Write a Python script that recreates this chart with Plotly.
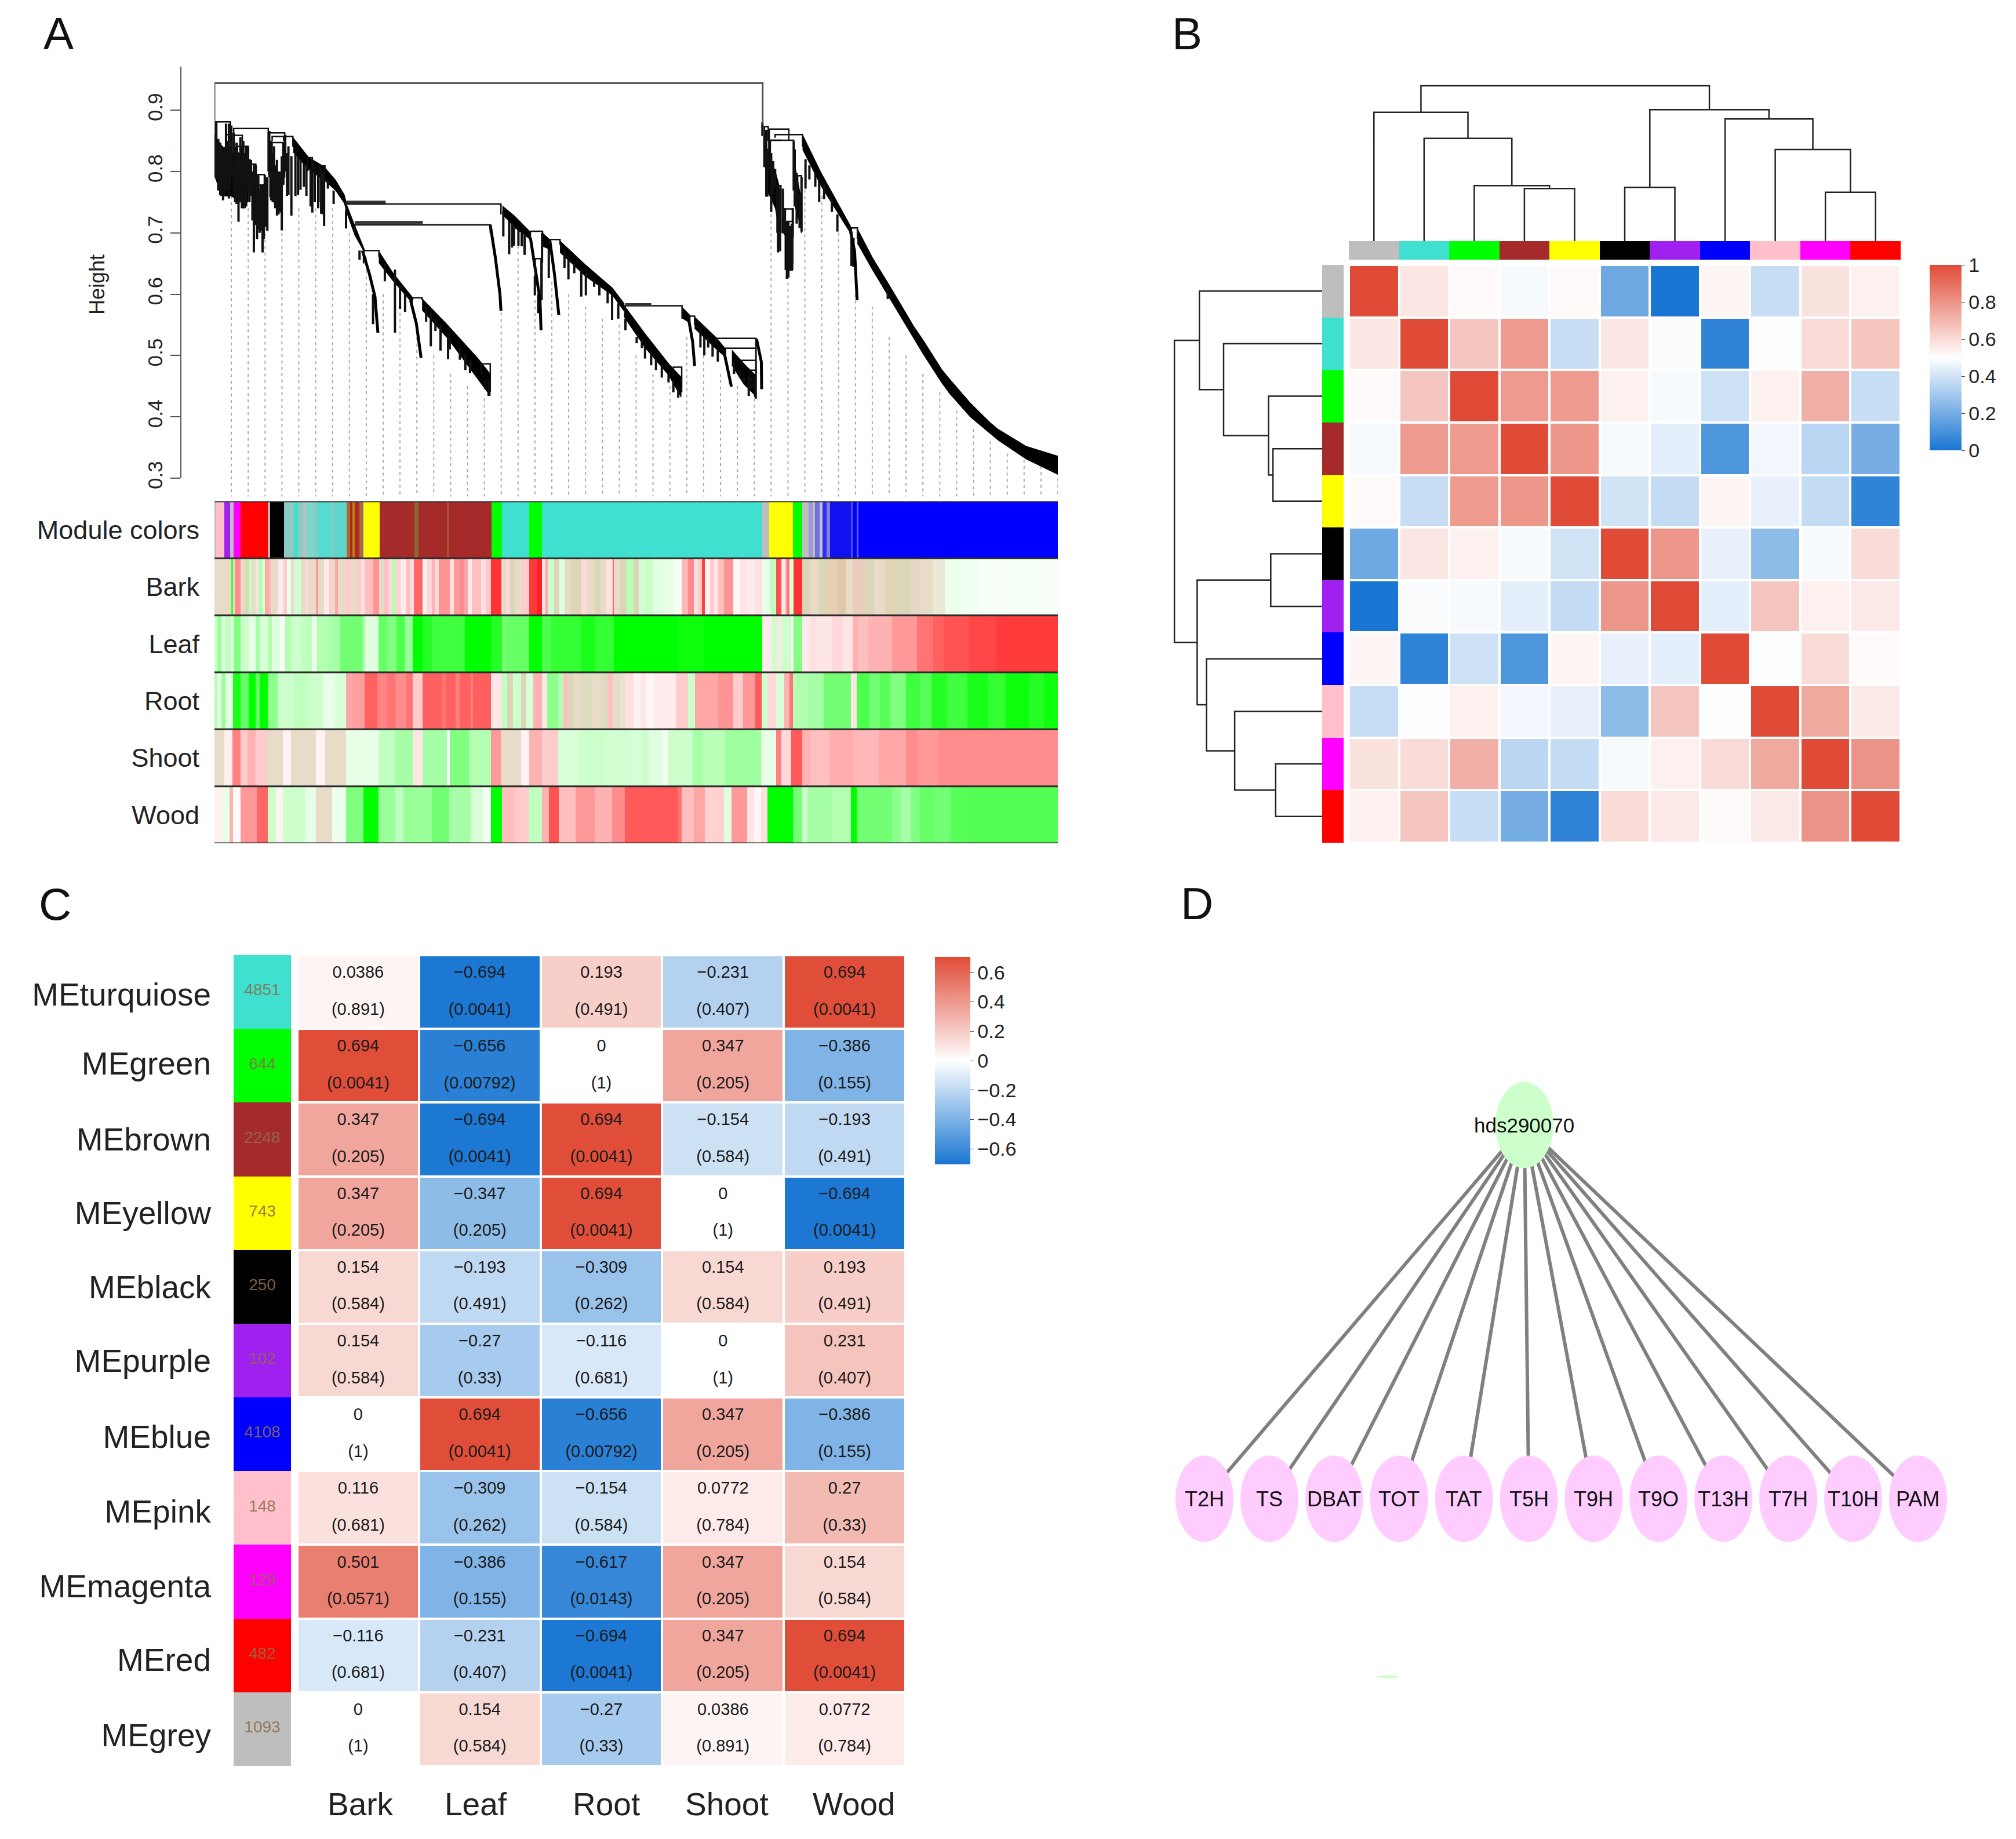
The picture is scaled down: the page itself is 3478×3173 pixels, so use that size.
import plotly.graph_objects as go

W, H = 3478, 3173
FONT = "Liberation Sans"
TAN1 = "#e8dcc8"
TAN2 = "#dcd6b8"

# ---------- Panel A: dendrogram (x = % of ordered genes, y = height) ----------
dendro_ticks = [0.3, 0.4, 0.5, 0.6, 0.7, 0.8, 0.9]
dendro_merges = [
    (0.11, 1.9, .881, .80, .85), (1.37, 2.0, .86, .80, .80), (2.28, 6.38, .870, .80, .80),
    (6.38, 8.32, .863, .80, .79), (8.32, 9.3, .857, .80, .84), (6.84, 8.2, .847, .78, .78),
    (6.84, 8.2, .857, .85, .85), (2.28, 3.3, .859, .85, .82), (2.73, 3.99, .841, .80, .77),
    (4.37, 4.9, .812, .76, .76), (5.01, 5.92, .795, .77, .74), (5.2, 5.81, .778, .72, .72),
    (11.05, 11.6, .8225, .80, .80), (12.4, 13.1, .809, .75, .80),
    (15.6, 33.97, .747, .73, .73), (16.64, 32.7, .713, .70, .70), (17.67, 19.5, .671, .65, .66),
    (23.5, 24.6, .594, .59, .59), (31.6, 32.7, .4865, .47, .44),
    (37.46, 38.9, .7025, .69, .69), (38.03, 38.84, .658, .62, .59), (39.75, 40.97, .689, .68, .68),
    (48.69, 55.44, .581, .575, .56), (54.41, 55.4, .481, .47, .44), (56.36, 56.93, .564, .55, .55),
    (59.45, 64.2, .528, .52, .43), (60.6, 64.2, .512, .50, .43), (62.55, 64.2, .492, .48, .43),
    (63.46, 64.2, .476, .46, .43),
    (65.2, 65.66, .873, .85, .85), (65.78, 68.1, .869, .85, .85), (66.47, 69.73, .86, .855, .84),
    (65.9, 67.17, .851, .80, .85), (65.9, 68.68, .851, .80, .80), (66.7, 67.17, .777, .70, .70),
    (69.15, 69.6, .793, .74, .70), (67.64, 68.57, .739, .70, .70), (67.87, 68.57, .7185, .65, .65),
    (75.53, 76.23, .708, .69, .69),
]
dendro_root = (0.0, 65.0, .944, .88, .877)
dendro_thick = [(15.6, 20.3, .750), (16.64, 24.7, .717), (48.69, 51.8, .583)]
dendro_twigs = [
    (.22, .881, .787), (.45, .853, .769), (.68, .847, .762), (1.02, .831, .753), (1.37, .878, .769),
    (1.71, .878, .756), (2.0, .875, .791), (2.28, .863, .762), (2.62, .847, .747), (2.85, .831, .718),
    (3.07, .856, .75), (3.42, .85, .74), (3.76, .841, .743), (3.99, .841, .769), (4.33, .819, .762),
    (4.67, .813, .668), (4.9, .81, .718), (5.2, .794, .706), (5.47, .778, .703), (5.7, .778, .668),
    (5.97, .794, .725), (6.27, .791, .703), (6.5, .866, .791), (6.72, .85, .753), (7.06, .841, .769),
    (7.41, .819, .728), (7.75, .8, .737), (7.98, .825, .704), (8.16, .847, .778), (8.39, .86, .8),
    (8.77, .841, .762), (9.12, .825, .728),
    (.1, .86, .79), (.8, .84, .76), (1.2, .84, .76), (1.55, .85, .77), (1.85, .84, .77), (2.45, .84, .75),
    (3.25, .84, .74), (3.6, .83, .74), (4.15, .82, .75), (4.5, .80, .72), (5.05, .79, .69), (5.35, .77, .70),
    (5.85, .78, .69), (6.1, .79, .71), (6.9, .83, .75), (7.2, .81, .74), (7.6, .8, .73), (8.6, .83, .76),
    (9.6, .83, .76), (10.2, .82, .77), (10.9, .81, .76), (11.9, .81, .75), (12.3, .80, .74), (12.9, .80, .73),
    (9.91, .825, .762), (10.6, .813, .775), (11.4, .806, .743), (11.6, .819, .733), (12.65, .806, .731),
    (13.0, .80, .711), (13.45, .787, .772), (14.13, .769, .747), (15.6, .737, .707), (17.2, .671, .656),
    (18.8, .60, .551), (20.2, .65, .621), (21.4, .64, .537), (22.0, .615, .576), (22.6, .60, .571),
    (25.1, .58, .555), (25.65, .57, .515), (26.2, .56, .54), (26.8, .55, .508), (27.7, .537, .494),
    (27.9, .53, .51), (29.1, .512, .493), (29.75, .502, .476), (30.3, .493, .471), (30.4, .49, .483),
    (32.1, .46, .445), (32.5, .46, .434),
    (34.25, .735, .694), (34.94, .72, .665), (35.28, .715, .676), (35.51, .71, .679), (36.04, .705, .679),
    (36.43, .70, .678), (36.77, .70, .664), (37.99, .63, .598), (38.38, .60, .569), (38.84, .70, .651),
    (38.77, .658, .591), (39.64, .675, .626), (41.5, .672, .643), (41.97, .662, .624), (42.66, .65, .634),
    (43.49, .64, .596), (44.04, .635, .598), (45.02, .625, .612), (45.64, .615, .598), (46.62, .605, .585),
    (47.15, .60, .558), (47.88, .585, .56),
    (48.73, .56, .541), (50.06, .53, .52), (50.68, .525, .512), (51.05, .515, .495), (51.78, .505, .484),
    (52.35, .495, .476), (53.04, .485, .464), (53.84, .47, .456), (54.41, .46, .44), (54.99, .45, .431),
    (57.62, .545, .513), (58.08, .535, .50), (58.54, .53, .513), (59.06, .52, .498), (59.68, .51, .49),
    (61.6, .49, .47), (62.32, .475, .464), (62.77, .465, .456), (63.35, .465, .434), (63.69, .465, .446),
    (64.1, .465, .432),
    (64.97, .881, .858), (65.2, .858, .807), (65.55, .836, .759), (65.43, .868, .759), (65.78, .852, .804),
    (66.01, .83, .734), (66.24, .817, .763), (66.48, .804, .772), (66.82, .775, .668), (67.06, .772, .67),
    (67.4, .772, .699), (67.64, .74, .696), (67.87, .718, .625), (68.05, .718, .627), (68.22, .711, .638),
    (68.45, .715, .638), (68.57, .74, .692), (68.68, .849, .769), (68.8, .836, .743), (69.03, .798, .715),
    (69.38, .763, .708), (69.61, .791, .702), (70.08, .82, .772), (70.54, .81, .787), (71.24, .80, .775),
    (71.7, .79, .75), (72.28, .78, .755), (73.21, .755, .734), (73.86, .73, .702), (75.53, .702, .646),
    (75.77, .692, .644), (79.83, .61, .592),
]
dendro_bands = [
    ([.2, 1.0, 2.0, 3.0, 4.0], [.855, .84, .83, .83, .81], [.785, .76, .76, .75, .75]),
    ([4.6, 5.0, 5.5, 6.3], [.80, .78, .76, .78], [.72, .71, .71, .72]),
    ([6.5, 7.5, 8.0], [.82, .79, .78], [.76, .74, .73]),
    ([65.5, 66.5, 67.0], [.84, .80, .775], [.77, .74, .70]),
    ([67.6, 68.6], [.72, .70], [.64, .64]),
    ([68.7, 69.5], [.82, .76], [.75, .71]),
    ([9.35, 11.17, 13.0, 14.36, 15.4, 15.73, 16.64, 17.78],
     [.855, .823, .808, .786, .762, .744, .712, .673],
     [.831, .803, .786, .769, .748, .731, .696, .668]),
    ([19.49, 21.2, 23.48], [.670, .634, .595], [.651, .621, .585]),
    ([24.62, 27.7, 31.2, 32.7], [.593, .549, .496, .47], [.574, .527, .462, .434]),
    ([34.14, 35.63, 37.35], [.744, .727, .703], [.73, .708, .69]),
    ([38.9, 39.75], [.70, .689], [.678, .673]),
    ([40.97, 43.99, 47.2, 48.57], [.687, .648, .610, .585], [.668, .629, .598, .572]),
    ([48.57, 51.09, 53.84, 55.33], [.582, .535, .487, .465], [.563, .512, .468, .432]),
    ([55.44, 56.36], [.579, .566], [.561, .553]),
    ([56.93, 59.45, 60.6], [.563, .53, .511], [.544, .511, .497]),
    ([61.35, 62.77, 64.15], [.509, .487, .468], [.484, .453, .434]),
    ([69.73, 71.93, 75.42], [.860, .798, .711], [.836, .776, .699]),
    ([76.23, 78.0, 80.18, 82.9, 84.13, 86.25, 87.15, 89.6, 92.03, 92.9, 96.25, 100.0],
     [.707, .66, .611, .548, .523, .477, .462, .423, .39, .38, .352, .336],
     [.683, .64, .59, .528, .50, .455, .438, .40, .372, .362, .331, .306]),
]
dendro_tails = [
    [(17.55, .671), (18.35, .634), (19.03, .596), (19.38, .537)],
    [(23.25, .59), (23.94, .552), (24.5, .496)],
    [(32.7, .713), (33.3, .66), (33.85, .60), (33.97, .573)],
    [(37.46, .692), (37.92, .648), (38.6, .591), (38.72, .541)],
    [(39.75, .689), (40.32, .632), (40.83, .566)],
    [(56.25, .557), (56.7, .522), (56.93, .483)],
    [(60.37, .509), (60.94, .475), (61.29, .449)],
    [(64.27, .527), (64.84, .49), (64.88, .445)],
    [(75.42, .702), (75.9, .67), (76.2, .59)],
]
guide_x = [2, 4, 6, 8, 10, 12, 14, 16, 18, 20, 22, 24, 26, 28, 30, 32, 34, 36, 38, 40, 42, 44, 46, 48, 50,
           52, 54, 56, 58, 60, 62, 64, 66, 68, 70, 72, 74, 76, 78, 80, 82, 84, 86, 88, 90, 92, 94, 96, 98, 100]
guide_top = [.76, .74, .72, .71, .74, .74, .74, .70, .66, .60, .58, .54, .50, .47, .45, .43, .57, .70, .59, .62,
             .60, .58, .56, .55, .50, .47, .45, .53, .50, .47, .45, .43, .73, .65, .77, .76, .70, .60, .58, .53,
             .50, .47, .44, .41, .38, .36, .34, .33, .32, .31]

# ---------- Panel A: stripes (x = gene position, (end, value or colour)) ----------
strip_start = 10
module_stripes = [
    (17, "#bebebe"), (45, "#ffc0cb"), (68, "#a020f0"), (80, "#bebebe"), (105, "#ff00ff"), (205, "#ff0000"),
    (213, "#bebebe"), (265, "#000000"), (300, "#8fc9c4"), (315, "#40e0d0"), (335, "#8fc9c4"), (345, "#bebebe"),
    (375, "#7ed6cd"), (385, "#8fc9c4"), (435, "#55dbcf"), (445, "#8fc9c4"), (492, "#5fd6cb"), (505, "#b06a2a"),
    (515, "#a52a2a"), (522, "#c87a10"), (540, "#a52a2a"), (553, "#b06a2a"), (557, "#bebebe"), (613, "#ffff00"),
    (740, "#a52a2a"), (755, "#8a6a30"), (860, "#a52a2a"), (867, "#a85030"), (1022, "#a52a2a"), (1060, "#00ff00"),
    (1160, "#40e0d0"), (1207, "#00ff00"), (2011, "#40e0d0"), (2036, "#bebebe"), (2124, "#ffff00"), (2158, "#00ff00"),
    (2181, "#bebebe"), (2196, "#9a9ad8"), (2204, "#bebebe"), (2221, "#7070e0"), (2231, "#c0c0d8"), (2246, "#3030f0"),
    (2258, "#8080e0"), (2336, "#1010f0"), (2342, "#5050e0"), (2356, "#0000ff"), (2362, "#6060e8"), (3091, "#0000ff"),
]
bark_stripes = [
    (72, TAN1), (78, -.8), (85, TAN1), (105, .45), (120, TAN1), (135, TAN2), (145, -.25), (160, TAN1), (170, .12),
    (185, -.3), (195, -.15), (205, .35), (215, .3), (240, TAN1), (262, .08), (275, .2), (290, -.1), (300, TAN1),
    (325, -.18), (340, TAN1), (350, .15), (380, TAN1), (388, .4), (410, TAN1), (430, .08), (440, .2), (450, TAN1),
    (460, .35), (490, TAN1), (510, .2), (530, TAN1), (545, .2), (560, .12), (590, .25), (612, .42), (630, TAN1),
    (645, .25), (660, .15), (672, -.3), (690, .18), (710, .08), (725, .25), (738, .12), (770, .6), (785, .05),
    (805, .15), (815, .3), (830, .15), (870, .42), (885, .12), (905, .4), (920, .45), (935, .35), (950, .08),
    (985, .25), (1000, .12), (1020, .22), (1058, .8), (1075, TAN1), (1090, .15), (1110, TAN2), (1130, TAN1),
    (1160, .2), (1190, .78), (1207, .88), (1217, .1), (1230, .3), (1250, -.2), (1270, TAN2), (1290, -.12),
    (1310, TAN1), (1350, TAN2), (1370, .15), (1400, TAN1), (1420, TAN2), (1440, TAN1), (1465, .12), (1470, .6),
    (1490, TAN1), (1515, TAN2), (1540, -.28), (1560, TAN2), (1586, -.18), (1610, -.22), (1646, -.12), (1690, -.1),
    (1716, -.05), (1740, .28), (1761, .45), (1775, .12), (1791, .2), (1801, .75), (1820, .05), (1836, .2), (1850, .1),
    (1871, .25), (1906, .42), (1930, .03), (1956, .1), (1985, .08), (2011, .12), (2040, -.1), (2061, -.25), (2081, .7),
    (2095, .1), (2101, .3), (2111, .55), (2126, -.15), (2158, .8), (2186, TAN2), (2216, TAN1), (2250, TAN2),
    (2286, "#e6cfb4"), (2316, "#ddc8a8"), (2341, TAN1), (2386, "#e8cdbc"), (2420, TAN2), (2460, TAN1),
    (2496, "#e4d4b4"), (2556, TAN2), (2590, "#e6d8c4"), (2636, TAN1), (2680, "#ebe8d8"), (2736, -.08), (2800, -.06),
    (2916, -.03), (3000, -.04), (3091, -.03),
]
leaf_stripes = [
    (20, -.2), (35, -.4), (50, -.15), (70, -.25), (80, -.1), (105, -.5), (135, -.2), (160, -.1), (175, -.35),
    (205, -.15), (220, -.3), (250, -.12), (268, -.05), (290, -.3), (325, -.2), (365, -.25), (385, -.1), (430, -.3),
    (470, -.35), (550, -.55), (558, -.4), (610, -.12), (640, -.6), (675, -.5), (705, -.7), (735, -.4), (770, -1),
    (805, -.85), (925, -.75), (1020, -1), (1060, -.85), (1080, -.55), (1160, -.6), (1207, -1), (1240, -.7),
    (1350, -.8), (1400, -.9), (1470, -.8), (1700, -1), (1800, -.95), (2011, -1), (2046, .08), (2066, -.2), (2081, .1),
    (2116, -.2), (2126, .05), (2158, -.5), (2186, .08), (2206, .12), (2266, .1), (2306, .15), (2341, .1), (2361, .3),
    (2396, .25), (2436, .3), (2486, .3), (2556, .4), (2576, .4), (2636, .55), (2676, .62), (2766, .68), (2866, .72),
    (3091, .77),
]
root_stripes = [
    (20, -.3), (35, -.1), (50, -.4), (78, -.12), (105, -.9), (135, -.6), (160, -1), (175, -.6), (205, -1), (240, -.45),
    (300, -.2), (350, -.25), (405, -.2), (450, -.1), (490, -.15), (515, .35), (558, .38), (605, .62), (640, .48),
    (670, .55), (710, .45), (735, .55), (770, .2), (840, .62), (855, .55), (890, .62), (905, .5), (945, .62), (955, .5),
    (1020, .63), (1060, .1), (1080, -.25), (1100, TAN2), (1130, -.2), (1150, TAN2), (1175, -.15), (1207, .3),
    (1225, .1), (1265, -.45), (1285, -.3), (1300, .25), (1320, TAN2), (1345, TAN1), (1390, "#dfdcc0"), (1420, TAN1),
    (1445, "#dcdcc0"), (1465, .25), (1490, TAN1), (1510, "#e6e6cc"), (1540, .12), (1568, .05), (1586, .1), (1616, .04),
    (1696, .08), (1741, .2), (1766, -.2), (1801, .35), (1851, .35), (1906, .42), (1941, .2), (1986, .4), (2009, .65),
    (2031, -.2), (2061, .15), (2091, -.15), (2111, .3), (2124, .55), (2176, -.3), (2236, -.35), (2336, -.55), (2356, .1),
    (2400, -.7), (2440, -.55), (2480, -.65), (2536, -.5), (2586, -.75), (2630, -.65), (2686, -.85), (2760, -.75),
    (2836, -.9), (2900, -.8), (2986, -.95), (3040, -.85), (3091, -.95),
]
shoot_stripes = [
    (45, TAN1), (75, .06), (105, .5), (130, .2), (160, .3), (200, .2), (260, TAN1), (290, .05), (380, TAN1), (415, .05),
    (490, TAN1), (612, -.1), (670, -.25), (735, -.35), (770, .1), (860, -.35), (870, 0), (940, -.5), (1020, -.3),
    (1055, .4), (1130, TAN1), (1160, .05), (1207, .3), (1265, .2), (1340, -.15), (1440, -.2), (1530, -.18), (1568, -.15),
    (1596, -.2), (1646, -.12), (1666, -.05), (1756, -.2), (1796, -.35), (1876, -.28), (2006, -.38), (2061, -.1),
    (2081, .5), (2116, .15), (2158, .65), (2186, .3), (2256, .25), (2346, .32), (2436, .28), (2536, .35), (2576, .45),
    (2656, .4), (2736, .45), (3091, .45),
]
wood_stripes = [
    (40, .06), (65, -.1), (78, .3), (105, .02), (165, .4), (205, .6), (235, -.2), (260, .05), (340, -.2), (380, -.1),
    (440, TAN1), (490, -.08), (555, -.5), (610, -1), (670, -.4), (700, -.25), (805, -.4), (868, -.55), (945, -.35),
    (990, -.15), (1020, -.05), (1060, -1), (1110, .25), (1160, .2), (1207, -.25), (1232, .3), (1268, .68), (1330, .25),
    (1400, .4), (1462, .3), (1510, .45), (1701, .65), (1716, .55), (1761, .25), (1801, .35), (1871, .18), (1898, -.12),
    (1956, .4), (1981, .1), (2006, .03), (2031, .12), (2124, -1), (2156, -.55), (2176, -.2), (2266, -.35), (2334, -.3),
    (2356, -1), (2486, -.55), (2520, -.45), (2556, -.35), (2586, -.5), (2640, -.6), (2700, -.55), (2760, -.65), (3091, -.68),
]
strip_labels = ["Module colors", "Bark", "Leaf", "Root", "Shoot", "Wood"]

# ---------- Panel B ----------
b_colors = ["#bebebe", "#40e0d0", "#00ff00", "#a52a2a", "#ffff00", "#000000",
            "#a020f0", "#0000ff", "#ffc0cb", "#ff00ff", "#ff0000"]
b_matrix = [
    [1, .57, .515, .48, .515, .185, 0, .525, .375, .58, .54],
    [.57, 1, .66, .78, .375, .57, .49, .05, .495, .60, .66],
    [.515, .66, 1, .78, .78, .54, .48, .39, .54, .72, .38],
    [.48, .78, .78, 1, .79, .48, .44, .115, .47, .35, .20],
    [.515, .375, .78, .79, 1, .40, .37, .525, .45, .37, .05],
    [.185, .57, .54, .48, .40, 1, .79, .45, .255, .48, .60],
    [0, .49, .48, .44, .37, .79, 1, .44, .66, .54, .56],
    [.525, .05, .39, .115, .525, .45, .44, 1, .495, .60, .515],
    [.375, .495, .54, .47, .45, .255, .66, .495, 1, .74, .56],
    [.58, .60, .72, .35, .37, .48, .54, .60, .74, 1, .80],
    [.54, .66, .38, .20, .05, .60, .56, .515, .56, .80, 1],
]
tree_merges = [(3, 4), (2, 11), (1, 12), (0, 13), (5, 6), (9, 10), (8, 16), (7, 17), (15, 18), (14, 19)]
col_heights = [.339, .357, .661, .829, .346, .314, .589, .786, .846, 1.0]
row_heights = [.333, .363, .667, .831, .348, .315, .592, .783, .846, 1.0]
b_ticks = [0, .2, .4, .6, .8, 1]

# ---------- Panel C ----------
c_modules = ["MEturquiose", "MEgreen", "MEbrown", "MEyellow", "MEblack", "MEpurple",
             "MEblue", "MEpink", "MEmagenta", "MEred", "MEgrey"]
c_label_shift = [.03, -.03, 0, 0, 0, 0, .03, .05, .06, .06, .08]
c_colors = ["#40e0d0", "#00ff00", "#a52a2a", "#ffff00", "#000000", "#a020f0",
            "#0000ff", "#ffc0cb", "#ff00ff", "#ff0000", "#bebebe"]
c_counts = [4851, 644, 2248, 743, 250, 102, 4108, 148, 129, 482, 1093]
c_traits = ["Bark", "Leaf", "Root", "Shoot", "Wood"]
c_label_offset = [.02, -.03, .04, .03, .08]
c_cor = [
    [.0386, -.694, .193, -.231, .694],
    [.694, -.656, 0, .347, -.386],
    [.347, -.694, .694, -.154, -.193],
    [.347, -.347, .694, 0, -.694],
    [.154, -.193, -.309, .154, .193],
    [.154, -.27, -.116, 0, .231],
    [0, .694, -.656, .347, -.386],
    [.116, -.309, -.154, .0772, .27],
    [.501, -.386, -.617, .347, .154],
    [-.116, -.231, -.694, .347, .694],
    [0, .154, -.27, .0386, .0772],
]
c_p = [
    [.891, .0041, .491, .407, .0041],
    [.0041, .00792, 1, .205, .155],
    [.205, .0041, .0041, .584, .491],
    [.205, .205, .0041, 1, .0041],
    [.584, .491, .262, .584, .491],
    [.584, .33, .681, 1, .407],
    [1, .0041, .00792, .205, .155],
    [.681, .262, .584, .784, .33],
    [.0571, .155, .0143, .205, .584],
    [.681, .407, .0041, .205, .0041],
    [1, .584, .33, .891, .784],
]
c_ticks = [-.6, -.4, -.2, 0, .2, .4, .6]

# ---------- Panel D ----------
hub_label = "hds290070"
hub_pos = 4.93
target_labels = ["T2H", "TS", "DBAT", "TOT", "TAT", "T5H", "T9H", "T9O", "T13H", "T7H", "T10H", "PAM"]

# ---------- Helpers ----------
def xd(a, b):
    return [a / W, b / W]

def yd(top, bot):
    return [1 - bot / H, 1 - top / H]

BWR = [[0, "#1976d2"], [.5, "#ffffff"], [1, "#e04b37"]]

def stripe_colour(v):
    if isinstance(v, str):
        return v
    c = round(255 * (1 - abs(v)))
    return f"#ff{c:02x}{c:02x}" if v >= 0 else f"#{c:02x}ff{c:02x}"

def discrete(colors):
    n = len(colors)
    scale = []
    for i, c in enumerate(colors):
        scale += [[i / n, c], [(i + 1) / n, c]]
    return scale

fig = go.Figure()
layout_axes = {}

def add_axes(n, xdom, ydom, xrange, yrange, xkw=None, ykw=None):
    base = dict(visible=False, fixedrange=True, showgrid=False, zeroline=False)
    layout_axes[f"xaxis{n}"] = {**base, "domain": xdom, "range": xrange, "anchor": f"y{n}", **(xkw or {})}
    layout_axes[f"yaxis{n}"] = {**base, "domain": ydom, "range": yrange, "anchor": f"x{n}", **(ykw or {})}
    return f"x{n}", f"y{n}"

# ---- Panel A axes
top_h = .9 + 75 / 1058
xg, yg = add_axes(2, xd(370, 1825), yd(115, 860), [0, 100], [.9 - 670 / 1058, top_h])
xa, ya = add_axes(12, xd(370, 1825), yd(115, 825), [0, 100], [.3, top_h], ykw=dict(
    visible=True, anchor="free", position=312 / W, tickvals=dendro_ticks,
    ticktext=[f"{t:.1f}" for t in dendro_ticks], tickangle=-90, ticks="outside", ticklen=17, tickwidth=2,
    tickcolor="#555555", showline=True, linecolor="#555555", linewidth=2,
    tickfont=dict(family=FONT, size=35, color="#222222")))
xs, ys = add_axes(3, xd(370, 1825), yd(865, 1455), [10, 3091], [6, 0], ykw=dict(
    visible=True, tickvals=[i + .5 for i in range(6)], ticktext=strip_labels, ticks="", showline=False,
    ticklabelstandoff=25, tickfont=dict(family=FONT, size=45, color="#222222")))

gx, gy = [], []
for x, t in zip(guide_x, guide_top):
    gx += [x, x, None]
    gy += [t, .27, None]
fig.add_trace(go.Scatter(x=gx, y=gy, xaxis=xg, yaxis=yg, mode="lines", hoverinfo="skip",
                         line=dict(color="#a8a8a8", width=2, dash="5px,6px")))

for (x_vals, up, lo) in dendro_bands:
    fig.add_trace(go.Scatter(x=list(x_vals) + list(x_vals)[::-1], y=list(up) + list(lo)[::-1],
                             xaxis=xa, yaxis=ya, mode="lines", fill="toself", fillcolor="#000000",
                             line=dict(color="#000000", width=1), hoverinfo="skip"))
tx, ty = [], []
for x, t, b in dendro_twigs:
    tx += [x, x, None]
    ty += [t, b, None]
fig.add_trace(go.Scatter(x=tx, y=ty, xaxis=xa, yaxis=ya, mode="lines", hoverinfo="skip",
                         line=dict(color="#111111", width=4)))
for tail in dendro_tails:
    fig.add_trace(go.Scatter(x=[p[0] for p in tail], y=[p[1] for p in tail], xaxis=xa, yaxis=ya, mode="lines",
                             line=dict(color="#000000", width=5), hoverinfo="skip"))
mx, my = [], []
for x0, x1, h, bl, br in dendro_merges:
    mx += [x0, x0, x1, x1, None]
    my += [bl, h, h, br, None]
fig.add_trace(go.Scatter(x=mx, y=my, xaxis=xa, yaxis=ya, mode="lines", hoverinfo="skip",
                         line=dict(color="#111111", width=2.5)))
x0, x1, h, bl, br = dendro_root
fig.add_trace(go.Scatter(x=[x0, x0, x1, x1], y=[bl, h, h, br], xaxis=xa, yaxis=ya, mode="lines", hoverinfo="skip",
                         line=dict(color="#555555", width=3)))
kx, ky = [], []
for x0, x1, h in dendro_thick:
    kx += [x0, x1, None]
    ky += [h, h, None]
fig.add_trace(go.Scatter(x=kx, y=ky, xaxis=xa, yaxis=ya, mode="lines", hoverinfo="skip",
                         line=dict(color="#333333", width=5)))

# stripes
for row, stripes in enumerate([module_stripes, bark_stripes, leaf_stripes, root_stripes,
                               shoot_stripes, wood_stripes]):
    colours = [stripe_colour(v) for _, v in stripes]
    palette = list(dict.fromkeys(colours))
    fig.add_trace(go.Heatmap(x=[strip_start] + [e for e, _ in stripes], y=[row, row + 1],
                             z=[[palette.index(c) for c in colours]], colorscale=discrete(palette),
                             zmin=-.5, zmax=len(palette) - .5, showscale=False, xaxis=xs, yaxis=ys,
                             hoverinfo="skip"))
sx, sy = [], []
for r in range(7):
    sx += [strip_start, 3091, None]
    sy += [r, r, None]
fig.add_trace(go.Scatter(x=sx, y=sy, xaxis=xs, yaxis=ys, mode="lines", cliponaxis=False, hoverinfo="skip",
                         line=dict(color="#2a2a2a", width=3)))

# ---- Panel B axes
xbh, ybh = add_axes(4, xd(2327, 3279), yd(457, 1454), [-.5, 10.5], [10.5, -.5])
xbc, ybc = add_axes(5, xd(2327, 3279), yd(416, 448), [-.5, 10.5], [-.5, .5])
xbr, ybr = add_axes(6, xd(2281, 2318), yd(457, 1454), [-.5, .5], [10.5, -.5])
xdc, ydc = add_axes(7, xd(2327, 3279), yd(142.6, 416), [-.5, 10.5], [0, 1.02])
xdr, ydr = add_axes(8, xd(2021, 2281), yd(457, 1454), [1.02, 0], [10.5, -.5])

fig.add_trace(go.Heatmap(z=b_matrix, colorscale=BWR, zmin=0, zmax=1, xgap=4, ygap=4, xaxis=xbh, yaxis=ybh,
                         hoverinfo="skip",
                         colorbar=dict(x=3329 / W, xanchor="left", y=1 - 457 / H, yanchor="top", xpad=0, ypad=0,
                                       lenmode="pixels", len=320, thicknessmode="pixels", thickness=55,
                                       outlinewidth=0, ticks="outside", ticklen=6, tickcolor="#444444",
                                       tickvals=b_ticks, ticktext=[f"{t:g}" for t in b_ticks],
                                       tickfont=dict(family=FONT, size=34, color="#222222"))))
n_b = len(b_colors)
fig.add_trace(go.Heatmap(z=[list(range(n_b))], colorscale=discrete(b_colors), zmin=-.5, zmax=n_b - .5,
                         showscale=False, xaxis=xbc, yaxis=ybc, hoverinfo="skip"))
fig.add_trace(go.Heatmap(z=[[i] for i in range(n_b)], colorscale=discrete(b_colors), zmin=-.5, zmax=n_b - .5,
                         showscale=False, xaxis=xbr, yaxis=ybr, hoverinfo="skip"))

def tree_paths(heights):
    pos = {i: float(i) for i in range(11)}
    hgt = {i: 0.0 for i in range(11)}
    p, q = [], []
    for k, ((a, b), h) in enumerate(zip(tree_merges, heights)):
        p += [pos[a], pos[a], pos[b], pos[b], None]
        q += [hgt[a], h, h, hgt[b], None]
        pos[11 + k] = (pos[a] + pos[b]) / 2
        hgt[11 + k] = h
    return p, q

p, q = tree_paths(col_heights)
fig.add_trace(go.Scatter(x=p, y=q, xaxis=xdc, yaxis=ydc, mode="lines", cliponaxis=False, hoverinfo="skip",
                         line=dict(color="#222222", width=2.5)))
p, q = tree_paths(row_heights)
fig.add_trace(go.Scatter(x=q, y=p, xaxis=xdr, yaxis=ydr, mode="lines", cliponaxis=False, hoverinfo="skip",
                         line=dict(color="#222222", width=2.5)))

# ---- Panel C axes
xch, ych = add_axes(9, xd(513, 1562), yd(1648, 3047), [-.5, 4.5], [10.5, -.5])
xcs, ycs = add_axes(10, xd(403, 502), yd(1648, 3047), [-.5, .5], [10.5, -.5], ykw=dict(
    visible=True, tickvals=[r + s for r, s in enumerate(c_label_shift)], ticktext=c_modules, ticks="", showline=False,
    ticklabelstandoff=38, tickfont=dict(family=FONT, size=55, color="#222222")))

fig.add_trace(go.Heatmap(z=c_cor, colorscale=BWR, zmin=-.705, zmax=.705, xgap=4, ygap=4, xaxis=xch, yaxis=ych,
                         hoverinfo="skip",
                         colorbar=dict(x=1613 / W, xanchor="left", y=1 - 1651 / H, yanchor="top", xpad=0, ypad=0,
                                       lenmode="pixels", len=358, thicknessmode="pixels", thickness=61,
                                       outlinewidth=0, ticks="outside", ticklen=6, tickcolor="#444444",
                                       tickvals=c_ticks, ticktext=[f"{t:g}".replace("-", "\u2212") for t in c_ticks],
                                       tickfont=dict(family=FONT, size=34, color="#222222"))))
n_c = len(c_colors)
fig.add_trace(go.Heatmap(z=[[i] for i in range(n_c)], colorscale=discrete(c_colors), zmin=-.5, zmax=n_c - .5,
                         showscale=False, xaxis=xcs, yaxis=ycs, hoverinfo="skip"))
fig.add_trace(go.Scatter(x=[0] * n_c, y=[r - .01 for r in range(n_c)], text=[str(c) for c in c_counts], mode="text",
                         xaxis=xcs, yaxis=ycs, hoverinfo="skip",
                         textfont=dict(family=FONT, size=28, color="rgba(140,110,75,0.9)")))
tx1, ty1, t1, ty2, t2 = [], [], [], [], []
for r, (rc, rp) in enumerate(zip(c_cor, c_p)):
    for c, (v, pv) in enumerate(zip(rc, rp)):
        tx1.append(c)
        ty1.append(r - .25)
        ty2.append(r + .25)
        t1.append(f"{v:g}".replace("-", "\u2212"))
        t2.append(f"({pv:g})")
fig.add_trace(go.Scatter(x=tx1, y=ty1, text=t1, mode="text", xaxis=xch, yaxis=ych, hoverinfo="skip",
                         textfont=dict(family=FONT, size=29, color="#1a1a1a")))
fig.add_trace(go.Scatter(x=tx1, y=ty2, text=t2, mode="text", xaxis=xch, yaxis=ych, hoverinfo="skip",
                         textfont=dict(family=FONT, size=29, color="#1a1a1a")))

# ---- Panel D axes
xn, yn = add_axes(11, xd(2000, 3400), yd(1800, 2900), [-78 / 111.9, 1322 / 111.9], [-314 / 645, 786 / 645])
ex, ey = [], []
for i in range(len(target_labels)):
    ex += [hub_pos, i, None]
    ey += [1, 0, None]
fig.add_trace(go.Scatter(x=ex, y=ey, xaxis=xn, yaxis=yn, mode="lines", hoverinfo="skip",
                         line=dict(color="#808080", width=6)))
rx, ry = 50 / 111.9, 74.5 / 645
shapes = [dict(type="circle", xref=xn, yref=yn, x0=i - rx, x1=i + rx, y0=-ry, y1=ry,
               fillcolor="#ffccff", line=dict(width=0), layer="above") for i in range(len(target_labels))]
shapes.append(dict(type="circle", xref=xn, yref=yn, x0=hub_pos - rx, x1=hub_pos + rx, y0=1 - ry, y1=1 + ry,
                   fillcolor="#ccffcc", line=dict(width=0), layer="above"))
shapes.append(dict(type="circle", xref=xn, yref=yn, x0=2.66, x1=3.0, y0=-.48, y1=-.472,
                   fillcolor="#ccffcc", line=dict(width=0), layer="above"))

# ---- Text
annotations = []
for i, lab in enumerate(target_labels):
    annotations.append(dict(x=i, y=0, xref=xn, yref=yn, text=lab, showarrow=False,
                            font=dict(family=FONT, size=36, color="#111111")))
annotations.append(dict(x=hub_pos, y=1, xref=xn, yref=yn, text=hub_label, showarrow=False,
                        font=dict(family=FONT, size=35, color="#111111")))
for i, lab in enumerate(c_traits):
    annotations.append(dict(x=i + c_label_offset[i], y=1 - 3113 / H, xref=xch, yref="paper", text=lab, showarrow=False,
                            xanchor="center", yanchor="middle", font=dict(family=FONT, size=55, color="#222222")))
for lab, px, py in [("A", 101, 58), ("B", 2048, 58), ("C", 95, 1560), ("D", 2065, 1559)]:
    annotations.append(dict(x=px / W, y=1 - py / H, xref="paper", yref="paper", text=lab, showarrow=False,
                            xanchor="center", yanchor="middle", font=dict(family=FONT, size=78, color="#111111")))
annotations.append(dict(x=167 / W, y=1 - 491 / H, xref="paper", yref="paper", text="Height", showarrow=False,
                        xanchor="center", yanchor="middle", textangle=-90,
                        font=dict(family=FONT, size=36, color="#222222")))

fig.update_layout(width=W, height=H, margin=dict(l=0, r=0, t=0, b=0, autoexpand=False),
                  plot_bgcolor="rgba(0,0,0,0)", paper_bgcolor="white",
                  showlegend=False, shapes=shapes, annotations=annotations, **layout_axes)

fig.write_html("out.html", config={"displayModeBar": False}, post_script='document.body.style.margin="0";')
